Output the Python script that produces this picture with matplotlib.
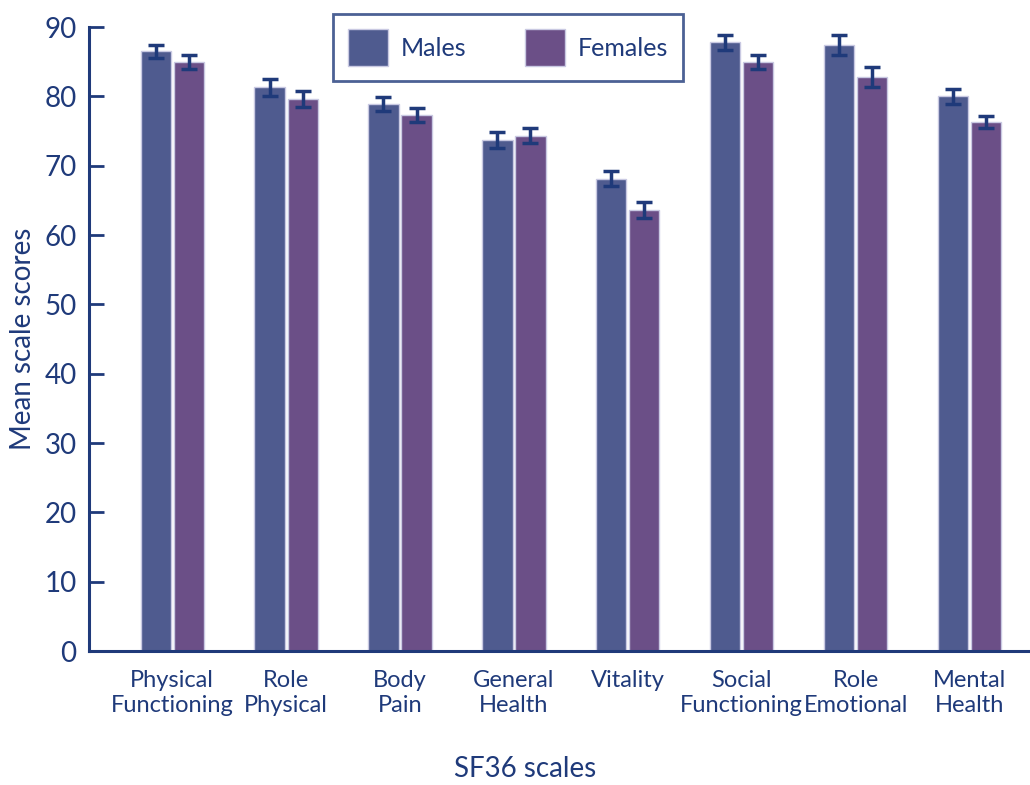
import matplotlib
matplotlib.use("Agg")
import matplotlib.pyplot as plt
import numpy as np
from matplotlib.patches import Patch

plt.rcParams['font.family'] = ['Lato', 'DejaVu Sans']

categories = ["Physical\nFunctioning", "Role\nPhysical", "Body\nPain", "General\nHealth",
              "Vitality", "Social\nFunctioning", "Role\nEmotional", "Mental\nHealth"]
males = [86.5, 81.3, 78.9, 73.7, 68.1, 87.8, 87.4, 80.0]
females = [85.0, 79.6, 77.3, 74.3, 63.6, 85.0, 82.8, 76.3]
males_err = [0.9, 1.2, 1.0, 1.1, 1.1, 1.1, 1.4, 1.1]
females_err = [1.0, 1.1, 1.0, 1.1, 1.1, 1.0, 1.4, 0.8]
yticks = [0, 10, 20, 30, 40, 50, 60, 70, 80, 90]

navy = "#1f3a7a"
male_col = "#4f5b8f"
female_col = "#6b4f87"
edge_col = "#c9c9e2"

fig = plt.figure(figsize=(10.30, 7.85), dpi=100)
ax = fig.add_axes([0.0864, 0.1707, 0.9136, 0.7949])

x = np.arange(len(categories))
w = 0.265
off = 0.145
ax.bar(x - off, males, w, color=male_col, edgecolor=edge_col, linewidth=1.0, zorder=2)
ax.bar(x + off, females, w, color=female_col, edgecolor=edge_col, linewidth=1.0, zorder=2)
ax.errorbar(x - off, males, yerr=males_err, fmt='none', ecolor=navy, elinewidth=2.5,
            capsize=6, capthick=2.5, zorder=3)
ax.errorbar(x + off, females, yerr=females_err, fmt='none', ecolor=navy, elinewidth=2.5,
            capsize=6, capthick=2.5, zorder=3)

ax.set_xlim(-0.73, 7.53)
ax.set_ylim(0, 90)
ax.set_yticks(yticks)
ax.tick_params(axis='y', direction='in', length=11, width=2, color=navy,
               labelcolor=navy, labelsize=20, pad=9)
ax.set_xticks(x)
ax.set_xticklabels(categories, fontsize=17, color=navy, linespacing=1.2)
ax.tick_params(axis='x', length=0, pad=14)

for s in ['top', 'right']:
    ax.spines[s].set_visible(False)
for s in ['left', 'bottom']:
    ax.spines[s].set_color(navy)
    ax.spines[s].set_linewidth(2.2)

ax.set_ylabel("Mean scale scores", fontsize=20, color=navy, labelpad=6)
fig.text(0.51, 0.021, "SF36 scales", fontsize=20, color=navy, ha='center', va='center')

handles = [Patch(facecolor=male_col, edgecolor=edge_col),
           Patch(facecolor=female_col, edgecolor=edge_col)]
leg = fig.legend(handles, ["Males", "Females"], loc='upper left',
                 bbox_to_anchor=(333 / 1030, 1 - 14 / 785), ncol=2,
                 fontsize=18, frameon=True, fancybox=False,
                 handlelength=1.6, handleheight=1.9, columnspacing=2.35,
                 handletextpad=0.5, borderpad=0.6, borderaxespad=0,
                 labelcolor=navy)
leg.get_frame().set_edgecolor(navy)
leg.get_frame().set_linewidth(2.0)

fig.savefig("out.png", dpi=100)
